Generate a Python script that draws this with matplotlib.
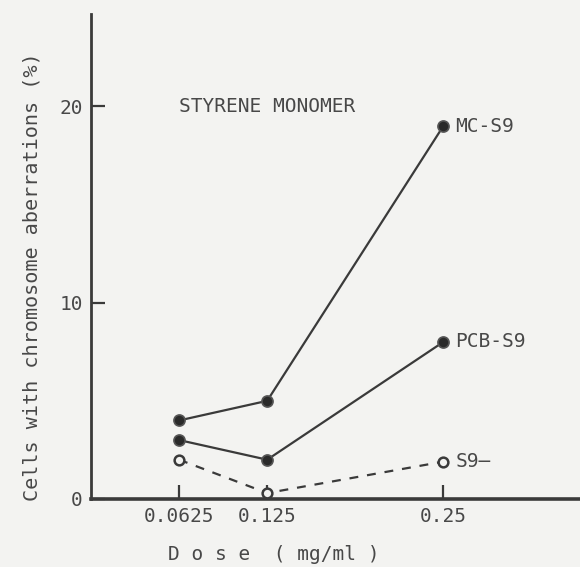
import matplotlib
matplotlib.use("Agg")
import matplotlib.pyplot as plt

# Dose levels (mg/ml) and percentage of cells with chromosome aberrations
doses = [0.0625, 0.125, 0.25]
mc_s9 = [4.0, 5.0, 19.0]
pcb_s9 = [3.0, 2.0, 8.0]
s9_minus = [2.0, 0.3, 1.9]

x_ticks = [0.0625, 0.125, 0.25]
x_tick_labels = ["0.0625", "0.125", "0.25"]
y_ticks = [0, 10, 20]
y_tick_labels = ["0", "10", "20"]

ink = "#3a3a3a"
txt = "#484848"
bg = "#f3f3f1"
plt.rcParams["font.family"] = ["DejaVu Sans Mono"]

fig = plt.figure(figsize=(5.8, 5.67), dpi=100, facecolor=bg)
ax = fig.add_axes([0.157, 0.12, 0.843, 0.855], facecolor=bg)

ax.plot(doses, mc_s9, color=ink, lw=1.6, marker="o", ms=8,
        mfc="#2a2a2a", mec="#555555", mew=1.2, clip_on=False, zorder=3)
ax.plot(doses, pcb_s9, color=ink, lw=1.6, marker="o", ms=8,
        mfc="#2a2a2a", mec="#555555", mew=1.2, clip_on=False, zorder=3)
ax.plot(doses, s9_minus, color=ink, lw=1.6, ls=(0, (4, 4)), marker="o", ms=7,
        mfc=bg, mec=ink, mew=1.8, clip_on=False, zorder=3)

ax.set_xlim(0, 0.347)
ax.set_ylim(0, 24.7)
ax.set_xticks(x_ticks, x_tick_labels)
ax.set_yticks(y_ticks, y_tick_labels)

for side in ("top", "right"):
    ax.spines[side].set_visible(False)
ax.spines["left"].set_linewidth(2.0)
ax.spines["bottom"].set_linewidth(2.6)
ax.spines["left"].set_color(ink)
ax.spines["bottom"].set_color(ink)

ax.tick_params(axis="both", direction="in", length=10, width=1.6,
               colors=ink, labelsize=14, labelcolor=txt)
ax.tick_params(axis="x", pad=6)
ax.tick_params(axis="y", pad=6)

ax.set_xlabel("D o s e  ( mg/ml )", fontsize=14, color=txt, va="center")
ax.xaxis.set_label_coords(0.373, -0.115)
ax.set_ylabel("Cells with chromosome aberrations (%)", fontsize=14.5,
              color=txt, va="center")
ax.yaxis.set_label_coords(-0.12, 0.458)

ax.text(0.0625, 20.0, "STYRENE MONOMER", fontsize=14, color=txt,
        ha="left", va="center")
ax.text(0.25 + 0.0085, mc_s9[2], "MC-S9", fontsize=14, color=txt,
        ha="left", va="center")
ax.text(0.25 + 0.0085, pcb_s9[2], "PCB-S9", fontsize=14, color=txt,
        ha="left", va="center")
ax.text(0.25 + 0.0085, s9_minus[2], "S9\u2014", fontsize=14, color=txt,
        ha="left", va="center")

fig.savefig("out.png", dpi=100, facecolor=bg)
